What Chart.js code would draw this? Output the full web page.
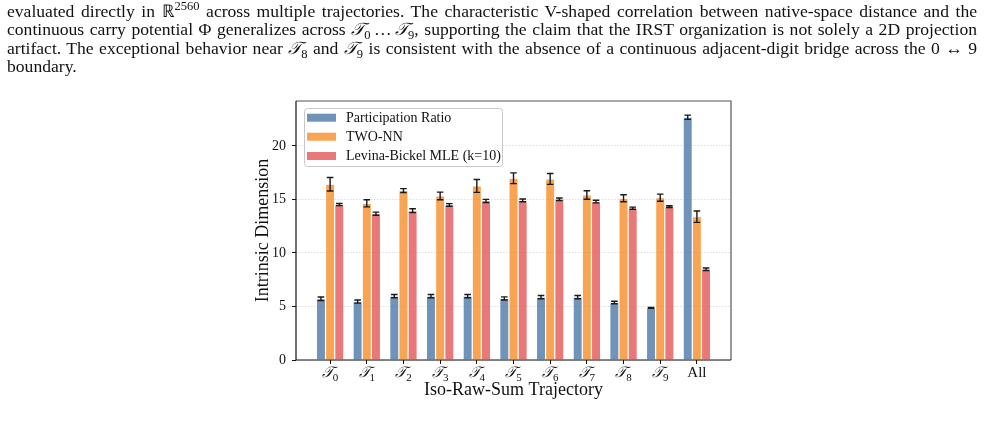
<!DOCTYPE html>
<html>
<head>
<meta charset="utf-8">
<script src="https://cdn.jsdelivr.net/npm/chart.js@4.4.0/dist/chart.umd.min.js"></script>
<style>
html, body { margin: 0; padding: 0; background: #fff; width: 985px; height: 422px; overflow: hidden; }
#wrap { position: absolute; left: 0; top: 0; width: 985px; height: 422px; }
#text { position: absolute; left: 7px; top: 1.5px; width: 970px; font-family: 'Liberation Serif', 'Times New Roman', serif; font-size: 17.6px; color: #111; }
.ln { white-space: nowrap; height: 18.6px; line-height: 18.6px; }
.sup { font-size: 12.5px; position: relative; top: -7px; line-height: 0; }
.sub { font-size: 12.5px; position: relative; top: 4px; line-height: 0; }
.cal { font-family: 'DejaVu Serif', 'Liberation Serif', serif; font-style: italic; }
</style>
</head>
<body>
<div id="wrap"><canvas id="myChart" width="985" height="422"></canvas></div>
<div id="text">
  <div class="ln"><span>evaluated directly in &#8477;<span class="sup">2560</span> across multiple trajectories. The characteristic V-shaped correlation between native-space distance and the</span></div>
  <div class="ln"><span>continuous carry potential &Phi; generalizes across <span class="cal">&#119983;</span><span class="sub">0</span>&#8201;&hellip;&#8201;<span class="cal">&#119983;</span><span class="sub">9</span>, supporting the claim that the IRST organization is not solely a 2D projection</span></div>
  <div class="ln"><span>artifact. The exceptional behavior near <span class="cal">&#119983;</span><span class="sub">8</span> and <span class="cal">&#119983;</span><span class="sub">9</span> is consistent with the absence of a continuous adjacent-digit bridge across the 0 &harr; 9</span></div>
  <div class="ln last"><span>boundary.</span></div>
</div>
<script>
// categories: trajectory index (subscript of T) or plain label
var trajectories = ['0', '1', '2', '3', '4', '5', '6', '7', '8', '9', 'All'];

var prValues    = [5.72, 5.46, 5.97, 5.97, 5.97, 5.75, 5.87, 5.87, 5.37, 4.87, 22.68];
var prErrors    = [0.16, 0.15, 0.15, 0.15, 0.15, 0.15, 0.15, 0.15, 0.12, 0.05, 0.2];
var twoNNValues = [16.42, 14.64, 15.83, 15.33, 16.26, 16.98, 16.92, 15.42, 15.11, 15.17, 13.39];
var twoNNErrors = [0.63, 0.33, 0.18, 0.36, 0.6, 0.5, 0.51, 0.4, 0.33, 0.33, 0.53];
var mleValues   = [14.52, 13.67, 13.95, 14.49, 14.86, 14.92, 15.02, 14.8, 14.18, 14.33, 8.48];
var mleErrors   = [0.1, 0.15, 0.18, 0.12, 0.15, 0.13, 0.12, 0.12, 0.1, 0.08, 0.12];

var yTicks = [0, 5, 10, 15, 20];

var SERIF = "'Liberation Serif', 'Times New Roman', serif";

function toPoints(vals) {
    return vals.map(function (v, i) { return { x: i, y: v }; });
}

// justify the paragraph lines like the typeset page
function justifyLines() {
    document.querySelectorAll('#text .ln').forEach(function (ln) {
        if (ln.classList.contains('last')) return;
        var span = ln.firstElementChild;
        span.style.wordSpacing = '0px';
        var natural = span.getBoundingClientRect().width;
        var spaces = (span.textContent.match(/ /g) || []).length;
        if (spaces) span.style.wordSpacing = ((970 - natural) / spaces) + 'px';
    });
}

var errorBars = {
    id: 'errorBars',
    afterDatasetsDraw: function (chart) {
        var ctx = chart.ctx;
        var ys = chart.scales.y;
        ctx.save();
        ctx.strokeStyle = '#1a1a1a';
        ctx.lineWidth = 1.4;
        chart.data.datasets.forEach(function (ds, i) {
            var meta = chart.getDatasetMeta(i);
            meta.data.forEach(function (bar, j) {
                var v = ds.data[j].y, e = ds.errors[j];
                var top = ys.getPixelForValue(v + e), bot = ys.getPixelForValue(v - e);
                var x = bar.x;
                ctx.beginPath();
                ctx.moveTo(x, top); ctx.lineTo(x, bot);
                ctx.moveTo(x - 3.3, top); ctx.lineTo(x + 3.3, top);
                ctx.moveTo(x - 3.3, bot); ctx.lineTo(x + 3.3, bot);
                ctx.stroke();
            });
        });
        ctx.restore();
    }
};

var frameAndLabels = {
    id: 'frameAndLabels',
    afterDraw: function (chart) {
        var ctx = chart.ctx, a = chart.chartArea;
        var xs = chart.scales.x;
        ctx.save();
        // axes frame
        ctx.lineWidth = 1.2;
        ctx.strokeStyle = '#555';
        ctx.beginPath();
        ctx.moveTo(a.left, a.top); ctx.lineTo(a.right, a.top); ctx.lineTo(a.right, a.bottom);
        ctx.stroke();
        ctx.strokeStyle = '#111';
        ctx.beginPath();
        ctx.moveTo(a.left, a.top); ctx.lineTo(a.left, a.bottom); ctx.lineTo(a.right, a.bottom);
        ctx.stroke();

        // x tick labels: calligraphic T with subscript
        ctx.fillStyle = '#111';
        ctx.textBaseline = 'alphabetic';
        trajectories.forEach(function (t, i) {
            var x = xs.getPixelForValue(i);
            if (t === 'All') {
                ctx.font = '15px ' + SERIF;
                ctx.textAlign = 'center';
                ctx.fillText(t, x, 377);
                return;
            }
            ctx.font = 'italic 15px ' + "'DejaVu Serif', " + SERIF;
            var wT = ctx.measureText('\u{1D4AF}').width;
            ctx.font = '11px ' + SERIF;
            var wS = ctx.measureText(t).width;
            var x0 = x - (wT + wS) / 2;
            ctx.textAlign = 'left';
            ctx.font = 'italic 15px ' + "'DejaVu Serif', " + SERIF;
            ctx.fillText('\u{1D4AF}', x0, 377);
            ctx.font = '11px ' + SERIF;
            ctx.fillText(t, x0 + wT, 381);
        });

        // legend inside the axes
        var lx = 304, ly = 108, lw = 198, lh = 58;
        ctx.fillStyle = 'rgba(255,255,255,0.85)';
        ctx.strokeStyle = '#c8c8c8';
        ctx.lineWidth = 1;
        ctx.beginPath();
        ctx.roundRect(lx + 0.5, ly + 0.5, lw, lh, 3);
        ctx.fill();
        ctx.stroke();
        var rows = [117.7, 136.7, 156];
        chart.data.datasets.forEach(function (ds, i) {
            ctx.fillStyle = ds.backgroundColor;
            ctx.fillRect(307, rows[i] - 4, 29, 8);
            ctx.fillStyle = '#111';
            ctx.font = '14px ' + SERIF;
            ctx.textAlign = 'left';
            ctx.textBaseline = 'middle';
            ctx.fillText(ds.label, 346, rows[i] + 0.5);
        });
        ctx.restore();
    }
};

var ctx = document.getElementById('myChart').getContext('2d');
var myChart = new Chart(ctx, {
    type: 'bar',
    data: {
        datasets: [{
            label: 'Participation Ratio',
            data: toPoints(prValues),
            errors: prErrors,
            backgroundColor: 'rgba(76, 120, 168, 0.8)'
        }, {
            label: 'TWO-NN',
            data: toPoints(twoNNValues),
            errors: twoNNErrors,
            backgroundColor: 'rgba(245, 133, 24, 0.75)'
        }, {
            label: 'Levina-Bickel MLE (k=10)',
            data: toPoints(mleValues),
            errors: mleErrors,
            backgroundColor: 'rgba(228, 87, 86, 0.8)'
        }]
    },
    options: {
        responsive: false,
        animation: false,
        devicePixelRatio: 1,
        layout: { padding: { left: 250, right: 254, top: 101, bottom: 20 } },
        datasets: {
            bar: {
                categoryPercentage: 0.75,
                barPercentage: 1.0,
                borderColor: '#ffffff',
                borderWidth: 0.6
            }
        },
        plugins: {
            legend: { display: false },
            tooltip: { enabled: false }
        },
        scales: {
            x: {
                type: 'linear',
                offset: false,
                min: -0.93,
                max: 10.93,
                afterBuildTicks: function (s) {
                    s.ticks = trajectories.map(function (_, i) { return { value: i }; });
                },
                afterFit: function (s) { s.height = 42; },
                ticks: { autoSkip: false, callback: function () { return ''; } },
                grid: { offset: false, drawOnChartArea: false, drawTicks: true, tickLength: 4, tickColor: '#111', tickWidth: 1 },
                border: { display: false },
                title: {
                    display: true,
                    text: 'Iso-Raw-Sum Trajectory',
                    color: '#111',
                    font: { family: SERIF, size: 18 },
                    padding: { top: 0, bottom: 1.2 }
                }
            },
            y: {
                min: 0,
                max: 24.2,
                afterBuildTicks: function (s) {
                    s.ticks = yTicks.map(function (v) { return { value: v }; });
                },
                afterFit: function (s) { s.width = 46; },
                ticks: { color: '#111', padding: 6, font: { family: SERIF, size: 14 } },
                grid: {
                    color: 'rgba(0,0,0,0.16)',
                    lineWidth: 0.8,
                    tickLength: 4,
                    tickColor: '#111',
                    tickWidth: 1,
                    tickBorderDash: []
                },
                border: { display: false, dash: [1.5, 1.5] },
                title: {
                    display: true,
                    text: 'Intrinsic Dimension',
                    color: '#111',
                    font: { family: SERIF, size: 18 },
                    padding: { top: 2.7, bottom: 0 }
                }
            }
        }
    },
    plugins: [errorBars, frameAndLabels]
});

justifyLines();
if (document.fonts && document.fonts.ready) {
    document.fonts.ready.then(function () { justifyLines(); myChart.draw(); });
}
</script>
</body>
</html>
